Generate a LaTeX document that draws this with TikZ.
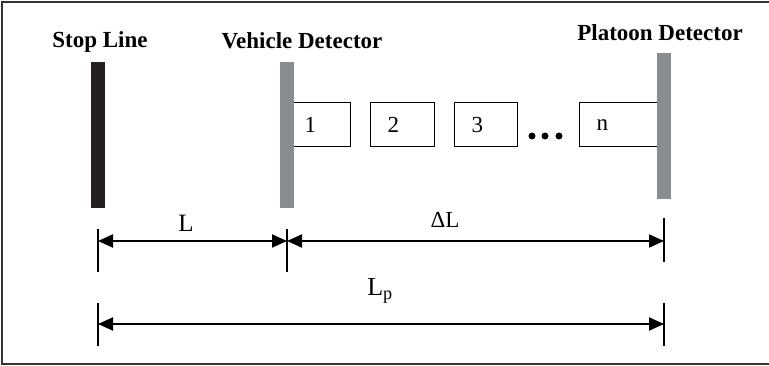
\documentclass[tikz,border=0pt]{standalone}
\usepackage{fontspec}
\setmainfont{Liberation Serif}
\usepackage{xcolor}
\usepackage{tikz}
\usetikzlibrary{arrows.meta}
\usetikzlibrary{positioning}

\definecolor{barblack}{HTML}{231F20}
\definecolor{bargray}{HTML}{878C91}

\begin{document}
\begin{tikzpicture}[
	x=1pt, y=-1pt,
	font=\fontsize{23}{27}\selectfont
]
\tikzset{
    mybar/.style = {rectangle, inner sep=0pt, minimum width=14pt, minimum height=146pt},
    mycar/.style = {rectangle, draw=black, line width=1pt, anchor=west, minimum height=44pt, inner xsep=17pt, align=left},
    mytitle/.style = {anchor=base, font=\fontsize{23}{27}\selectfont\bfseries},
    mytick/.style = {line width=1.2pt},
    mydim/.style = {line width=2pt, {Triangle[length=15pt,width=13pt]}-{Triangle[length=15pt,width=13pt]}}
}
\useasboundingbox (0,0) rectangle (769,366);
\draw[line width=1.5pt, black!80] (772,2) -- (2,2) -- (2,364) -- (772,364);

% titles
\node[mytitle] (stoptxt) at (100,48) {Stop Line};
\node[mytitle] (vehtxt) at (302,49) {Vehicle Detector};
\node[mytitle] (plattxt) at (660,41) {Platoon Detector};

% vehicles
\node[mycar,text width=29pt] (car1) at (287,125) {1};
\node[mycar,text width=30pt] (car2) at (370,125) {2};
\node[mycar,text width=29pt] (car3) at (454,125) {3};
\node[mycar,text width=51pt] (carn) at (579,125) {n};
\foreach \x/\n in {532/a,545/b,559/c}
    \fill (\x,136) circle (3.5pt) node (dot\n) {};

% bars
\node[mybar,fill=barblack] (stopbar) at (98,135) {};
\node[mybar,fill=bargray] (vehbar) at (287,135) {};
\node[mybar,fill=bargray] (platbar) at (664,126.5) {};

% dimensions
\coordinate (t1a) at (98,229);   \coordinate (t1b) at (98,272);
\coordinate (t2a) at (287,229);  \coordinate (t2b) at (287,272);
\coordinate (t3a) at (664,218);  \coordinate (t3b) at (664,262);
\coordinate (t4a) at (98,303);   \coordinate (t4b) at (98,346);
\coordinate (t5a) at (664,303);  \coordinate (t5b) at (664,346);
\foreach \n in {1,...,5}
    \draw[mytick] (t\n a) -- (t\n b);
\coordinate (d1) at (98,241);  \coordinate (d2) at (287,241);  \coordinate (d3) at (664,241);
\coordinate (d4) at (98,324);  \coordinate (d5) at (664,324);
\draw[mydim] (d1) -- (d2);
\draw[mydim] (d2) -- (d3);
\draw[mydim] (d4) -- (d5);
\node[anchor=base,font=\fontsize{25}{28}\selectfont] (lbl) at (186,232) {L};
\node[anchor=base] (dlbl) at (445,228) {ΔL};
\node[anchor=base,font=\fontsize{26}{29}\selectfont] (lplbl) at (380,296) {L\textsubscript{p}};
\end{tikzpicture}
\end{document}
